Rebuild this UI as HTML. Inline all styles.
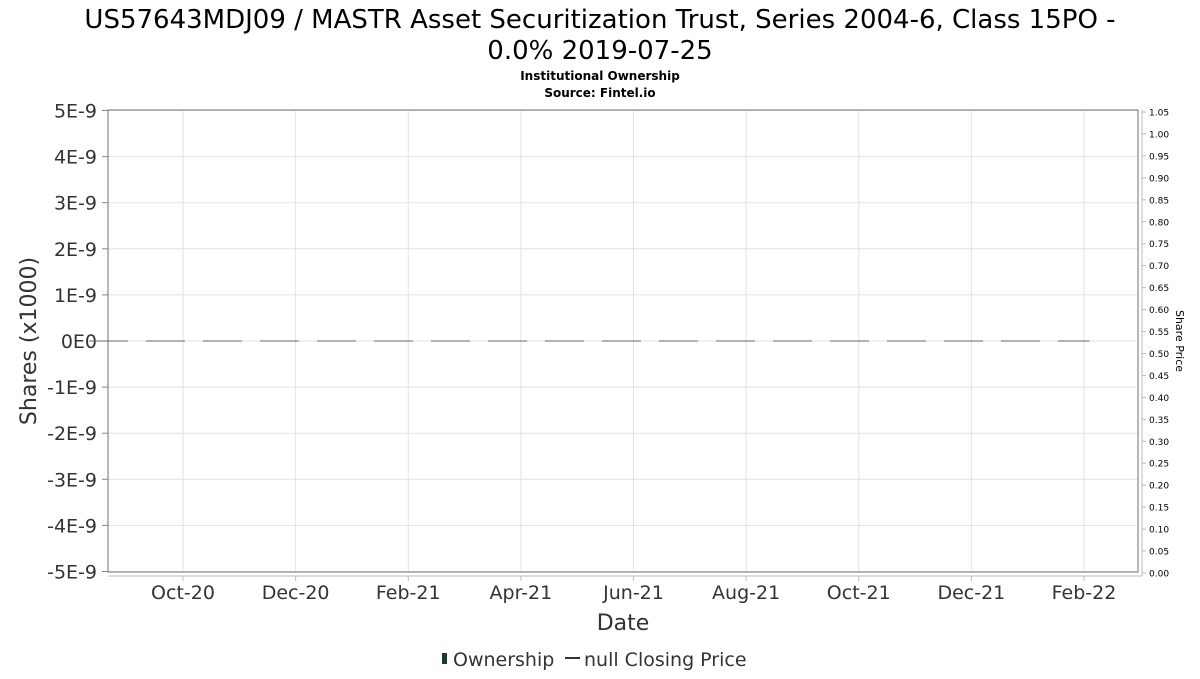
<!DOCTYPE html>
<html><head><meta charset="utf-8"><style>
body{margin:0;background:#fff;font-family:"DejaVu Sans","Liberation Sans",sans-serif;}
svg text{font-family:"DejaVu Sans","Liberation Sans",sans-serif;}
</style></head><body>
<svg id="c" width="1200" height="675" xmlns="http://www.w3.org/2000/svg">
<text x="600" y="28" font-size="26" text-anchor="middle" fill="#000">US57643MDJ09 / MASTR Asset Securitization Trust, Series 2004-6, Class 15PO -</text>
<text x="600" y="59" font-size="26" text-anchor="middle" fill="#000">0.0% 2019-07-25</text>
<text x="600" y="80" font-size="12" font-weight="bold" text-anchor="middle">Institutional Ownership</text>
<text x="600" y="97" font-size="12" font-weight="bold" text-anchor="middle">Source: Fintel.io</text>
<g id="grid"></g>
<rect x="108" y="110" width="1030" height="462" fill="none" stroke="#888" stroke-width="1.2"/>
<line x1="108" y1="576" x2="1142" y2="576" stroke="#bbb"/>
<line x1="1142" y1="110" x2="1142" y2="576" stroke="#bbb"/>
<g id="axes"></g>
<text x="623" y="630" font-size="22" text-anchor="middle" fill="#333">Date</text>
<text transform="translate(36,341) rotate(-90)" font-size="22" text-anchor="middle" fill="#333">Shares (x1000)</text>
<text transform="translate(1176,341) rotate(90)" font-size="11" text-anchor="middle" fill="#000">Share Price</text>
<g>
<rect x="442" y="653" width="5" height="11" fill="#1a3d2a"/>
<text x="453" y="666" font-size="19" fill="#333">Ownership</text>
<line x1="565" y1="658" x2="580" y2="658" stroke="#333" stroke-width="2"/>
<text x="584" y="666" font-size="19" fill="#333">null Closing Price</text>
</g>
</svg>
<script>
const yTicks=["5E-9","4E-9","3E-9","2E-9","1E-9","0E0","-1E-9","-2E-9","-3E-9","-4E-9","-5E-9"];
const yTickValues=[5,4,3,2,1,0,-1,-2,-3,-4,-5];
const priceTicks=[0,0.05,0.1,0.15,0.2,0.25,0.3,0.35,0.4,0.45,0.5,0.55,0.6,0.65,0.7,0.75,0.8,0.85,0.9,0.95,1.0,1.05];
const xLabels=["Oct-20","Dec-20","Feb-21","Apr-21","Jun-21","Aug-21","Oct-21","Dec-21","Feb-22"];
const xMonths=[3,5,7,9,11,13,15,17,19];
const seriesStart=1.33, seriesEnd=19.1;
const ownershipValue=0;
const NS="http://www.w3.org/2000/svg";
const y=v=>341-v*46.1;
const yp=v=>573-v*(573-112)/1.05;
const x=m=>183+(m-3)*(1084-183)/16;
const svg=document.getElementById('c'),grid=document.getElementById('grid'),axes=document.getElementById('axes');
function mk(t,a,p){const e=document.createElementNS(NS,t);for(const k in a)e.setAttribute(k,a[k]);p.appendChild(e);return e;}
yTickValues.forEach((v,i)=>{
 const g=mk('line',{x1:108,x2:1138,y1:y(v),y2:y(v),stroke:'#e2e2e2'},grid);
 
 
 const tk=mk('line',{x1:102,x2:108,y1:y(v),y2:y(v),stroke:'#888'},axes);
 
 
 const t=mk('text',{x:97,y:y(v)+7,'font-size':19,'text-anchor':'end',fill:'#333'},axes);
 t.textContent=yTicks[i];
 
 
});
xLabels.forEach((l,i)=>{
 const xv=x(xMonths[i]);
 const g=mk('line',{x1:xv,x2:xv,y1:110,y2:572,stroke:'#e2e2e2'},grid);
 
 
 const tk=mk('line',{x1:xv,x2:xv,y1:576,y2:581,stroke:'#bbb'},axes);
 
 
 const t=mk('text',{x:xv,y:599,'font-size':19,'text-anchor':'middle',fill:'#333'},axes);
 t.textContent=l;
 
 
});
priceTicks.forEach(v=>{
 const tk=mk('line',{x1:1142,x2:1146,y1:yp(v),y2:yp(v),stroke:'#bbb'},axes);
 
 
 const t=mk('text',{x:1149,y:yp(v)+3.5,'font-size':9,fill:'#000'},axes);
 t.textContent=v.toFixed(2);
 
 
});
const ln=mk('line',{x1:x(seriesStart),x2:x(seriesEnd),y1:y(ownershipValue),y2:y(ownershipValue),stroke:'#666','stroke-width':1,'stroke-dasharray':'39 18'},svg);


</script>
</body></html>
